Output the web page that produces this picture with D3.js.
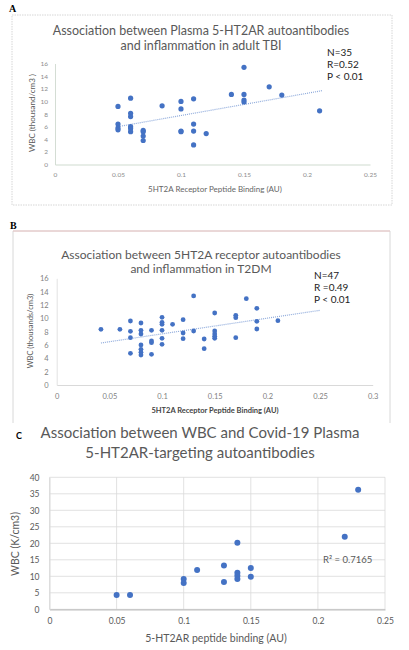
<!DOCTYPE html>
<html>
<head>
<meta charset="utf-8">
<script src="https://cdn.jsdelivr.net/npm/d3@7"></script>
<style>
  body { margin: 0; background: #fff; }
  svg { display: block; font-family: Lato, "Open Sans", sans-serif; }
</style>
</head>
<body>
<svg id="chart" width="409" height="650"></svg>
<script>
// panel A : adult TBI
var aX = [0.05,0.05,0.05,0.05, 0.06,0.06,0.06,0.06,0.06,0.06, 0.07,0.07,0.07,0.07, 0.085,
          0.1,0.1,0.1,0.1, 0.11,0.11,0.11,0.11, 0.12, 0.14, 0.15,0.15,0.15,0.15, 0.17, 0.18, 0.21];
var aY = [9.2,6.4,5.8,5.5, 10.5,8.1,7.6,6.0,5.7,5.2, 5.4,5.2,4.5,3.8, 9.3,
          10.0,8.8,5.3,5.2, 10.4,6.4,5.3,3.1, 4.9, 11.1, 15.4,11.1,10.2,9.9, 12.3, 11.0, 8.5];
var aTrend = [[0.05, 6.0], [0.212, 11.7]];
var aXTicks = [0, 0.05, 0.1, 0.15, 0.2, 0.25];
var aYTicks = [0, 2, 4, 6, 8, 10, 12, 14, 16];
var aStats = ["N=35", "R=0.52", "P < 0.01"];

// panel B : T2DM
var bX = [0.042, 0.06, 0.07,0.07,0.07,0.07, 0.08,0.08,0.08,0.08,0.08,0.08,0.08,
          0.09,0.09,0.09,0.09, 0.1,0.1,0.1,0.1,0.1,0.1, 0.11, 0.12,0.12,0.12,
          0.13,0.13, 0.14,0.14, 0.15,0.15,0.15,0.15,0.15, 0.17,0.17,0.17, 0.18,
          0.19,0.19,0.19, 0.21];
var bY = [8.35, 8.35, 9.6,8.05,7.1,4.75, 9.3,8.2,7.65,6.0,5.35,4.9,4.5,
          8.2,6.6,6.35,4.6, 10.15,9.4,9.1,8.2,7.0,6.1, 9.1, 9.8,7.8,6.95,
          13.35,8.1, 6.9,5.45, 10.8,8.1,7.65,7.3,7.0, 10.45,10.1,7.1, 12.95,
          11.5,9.55,8.4, 9.65];
var bTrend = [[0.042, 6.3], [0.25, 11.2]];
var bXTicks = [0, 0.05, 0.1, 0.15, 0.2, 0.25, 0.3];
var bYTicks = [0, 2, 4, 6, 8, 10, 12, 14, 16];
var bStats = ["N=47", "R =0.49", "P < 0.01"];

// panel C : Covid-19
var cX = [0.05, 0.06, 0.1, 0.1, 0.11, 0.13, 0.13, 0.14, 0.14, 0.14, 0.14, 0.15, 0.15, 0.22, 0.23];
var cY = [4.3, 4.3, 9.2, 8.0, 11.9, 13.3, 8.3, 20.2, 11.1, 10.2, 9.2, 12.5, 9.9, 22.0, 36.2];
var cXTicks = [0, 0.05, 0.1, 0.15, 0.2, 0.25];
var cYTicks = [0, 5, 10, 15, 20, 25, 30, 35, 40];

var svg = d3.select("#chart");
var fmt = function(d) { return String(+d.toFixed(2)); };

// frames around A and B
svg.append("rect").attr("x", 12).attr("y", 15).attr("width", 380).attr("height", 190)
	.attr("fill", "none").attr("stroke", "#d6d6d6").attr("stroke-dasharray", "1.5,1");
svg.append("path").attr("d", "M13,423V231H390V423").attr("fill", "none")
	.attr("stroke", "#d8d8d8");
svg.append("line").attr("x1", 13).attr("x2", 390).attr("y1", 231).attr("y2", 231)
	.attr("stroke", "#e9c4c4");

// panel letters
svg.append("text").attr("x", 9).attr("y", 12).text("A")
	.style("font-family", "'Liberation Serif', serif").style("font-weight", "bold").style("font-size", "10px");
svg.append("text").attr("x", 10).attr("y", 229).text("B")
	.style("font-family", "'Liberation Serif', serif").style("font-weight", "bold").style("font-size", "10px");
svg.append("text").attr("x", 16).attr("y", 439).text("C")
	.style("font-weight", "bold").style("font-size", "9px");

function drawPanel(p)
{
	var g = svg.append("g");
	var x = d3.scaleLinear().domain(p.xDomain).range(p.xRange);
	var y = d3.scaleLinear().domain(p.yDomain).range(p.yRange);

	if (p.grid)
	{
		g.selectAll(".hg").data(p.yTicks).enter().append("line")
			.attr("x1", p.xRange[0]).attr("x2", p.xRange[1])
			.attr("y1", function(d) { return y(d); }).attr("y2", function(d) { return y(d); })
			.attr("stroke", "#d9d9d9").attr("stroke-width", 0.8);
		g.selectAll(".vg").data(p.xTicks).enter().append("line")
			.attr("x1", function(d) { return x(d); }).attr("x2", function(d) { return x(d); })
			.attr("y1", p.yRange[0]).attr("y2", p.yRange[1])
			.attr("stroke", "#d9d9d9").attr("stroke-width", 0.8);
	}

	// axes, tick marks hidden, only the base lines kept
	var xa = g.append("g").attr("transform", "translate(0," + p.yRange[0] + ")")
		.call(d3.axisBottom(x).tickValues(p.xTicks).tickFormat(fmt).tickSize(0).tickPadding(p.xPad));
	var ya = g.append("g").attr("transform", "translate(" + p.xRange[0] + ",0)")
		.call(d3.axisLeft(y).tickValues(p.yTicks).tickSize(0).tickPadding(p.yPad));
	xa.select(".domain").attr("stroke", p.axisColor).attr("stroke-width", 1.2);
	ya.select(".domain").attr("stroke", p.yAxisColor).attr("stroke-width", 1);
	g.selectAll(".tick text").attr("fill", p.tickColor)
		.style("font-family", "Lato, sans-serif").style("font-size", p.tickSize + "px");

	if (p.trend)
	{
		g.append("line")
			.attr("x1", x(p.trend[0][0])).attr("y1", y(p.trend[0][1]))
			.attr("x2", x(p.trend[1][0])).attr("y2", y(p.trend[1][1]))
			.attr("stroke", "#8eaadb").attr("stroke-width", 1.2).attr("stroke-dasharray", "1,1");
	}

	g.selectAll(".dot").data(p.xs).enter().append("circle")
		.attr("cx", function(d) { return x(d); })
		.attr("cy", function(d, i) { return y(p.ys[i]); })
		.attr("r", p.r)
		.attr("fill", "#4472c4");

	// titles
	p.title.forEach(function(t, i) {
		g.append("text").attr("x", p.titleX).attr("y", p.titleY + i * p.titleGap)
			.attr("text-anchor", "middle").attr("fill", "#595959")
			.style("font-size", p.titleSize + "px").text(t);
	});
	g.append("text").attr("x", p.xTitle[1]).attr("y", p.xTitle[2])
		.attr("text-anchor", "middle").attr("fill", p.xTitleColor)
		.style("font-size", p.axTitleSize + "px").style("font-weight", p.xTitleWeight || "normal")
		.text(p.xTitle[0]);
	g.append("text").attr("transform", "translate(" + p.yTitle[1] + "," + p.yTitle[2] + ") rotate(-90)")
		.attr("text-anchor", "middle").attr("dy", "0.35em").attr("fill", "#595959")
		.style("font-size", p.axTitleSize + "px").text(p.yTitle[0]);

	if (p.stats)
	{
		p.stats.forEach(function(t, i) {
			g.append("text").attr("x", p.statsX).attr("y", p.statsY + i * 12)
				.attr("fill", "#222").style("font-size", "10px").text(t);
		});
	}
	return { x: x, y: y };
}

drawPanel({
	xs: aX, ys: aY, xDomain: [0, 0.25], yDomain: [0, 16],
	xRange: [55, 370], yRange: [164.5, 63.5], xTicks: aXTicks, yTicks: aYTicks,
	xPad: 8, yPad: 7, tickSize: 6.5, tickColor: "#8c8c8c",
	axisColor: "#cfdccf", yAxisColor: "#d4ddd4", r: 2.6, trend: aTrend,
	title: ["Association between Plasma 5-HT2AR autoantibodies", "and inflammation in adult TBI"],
	titleX: 201, titleY: 35, titleGap: 15, titleSize: 12.5,
	xTitle: ["5HT2A Receptor Peptide Binding (AU)", 215, 192], xTitleColor: "#666",
	yTitle: ["WBC (thousand/cm3 )", 32, 113], axTitleSize: 8,
	stats: aStats, statsX: 327, statsY: 56
});

drawPanel({
	xs: bX, ys: bY, xDomain: [0, 0.3], yDomain: [0, 16],
	xRange: [56.7, 372.7], yRange: [385, 278.3], xTicks: bXTicks, yTicks: bYTicks,
	xPad: 9, yPad: 8, tickSize: 7.5, tickColor: "#7f7f7f",
	axisColor: "#d9d9d9", yAxisColor: "#e2e2e2", r: 2.4, trend: bTrend,
	title: ["Association between 5HT2A receptor autoantibodies", "and inflammation in T2DM"],
	titleX: 201, titleY: 259, titleGap: 13.5, titleSize: 12,
	xTitle: ["5HT2A Receptor Peptide Binding (AU)", 215, 413], xTitleColor: "#444", xTitleWeight: "bold",
	yTitle: ["WBC (thousands/cm3)", 30, 331], axTitleSize: 7.5,
	stats: bStats, statsX: 314, statsY: 279
});

var pc = drawPanel({
	xs: cX, ys: cY, xDomain: [0, 0.25], yDomain: [0, 40],
	xRange: [49.5, 385], yRange: [609.3, 477.3], xTicks: cXTicks, yTicks: cYTicks,
	xPad: 9, yPad: 10, tickSize: 8.5, tickColor: "#595959", grid: true,
	axisColor: "#bfbfbf", yAxisColor: "#d9d9d9", r: 3,
	title: ["Association between WBC and Covid-19 Plasma", "5-HT2AR-targeting autoantibodies"],
	titleX: 200, titleY: 438, titleGap: 20, titleSize: 15,
	xTitle: ["5-HT2AR peptide binding (AU)", 216, 642], xTitleColor: "#595959",
	yTitle: ["WBC (K/cm3)", 15, 544], axTitleSize: 10.5
});

svg.append("text").attr("x", 323).attr("y", 563).attr("fill", "#595959")
	.style("font-size", "9.5px").text("R² = 0.7165");
</script>
</body>
</html>
